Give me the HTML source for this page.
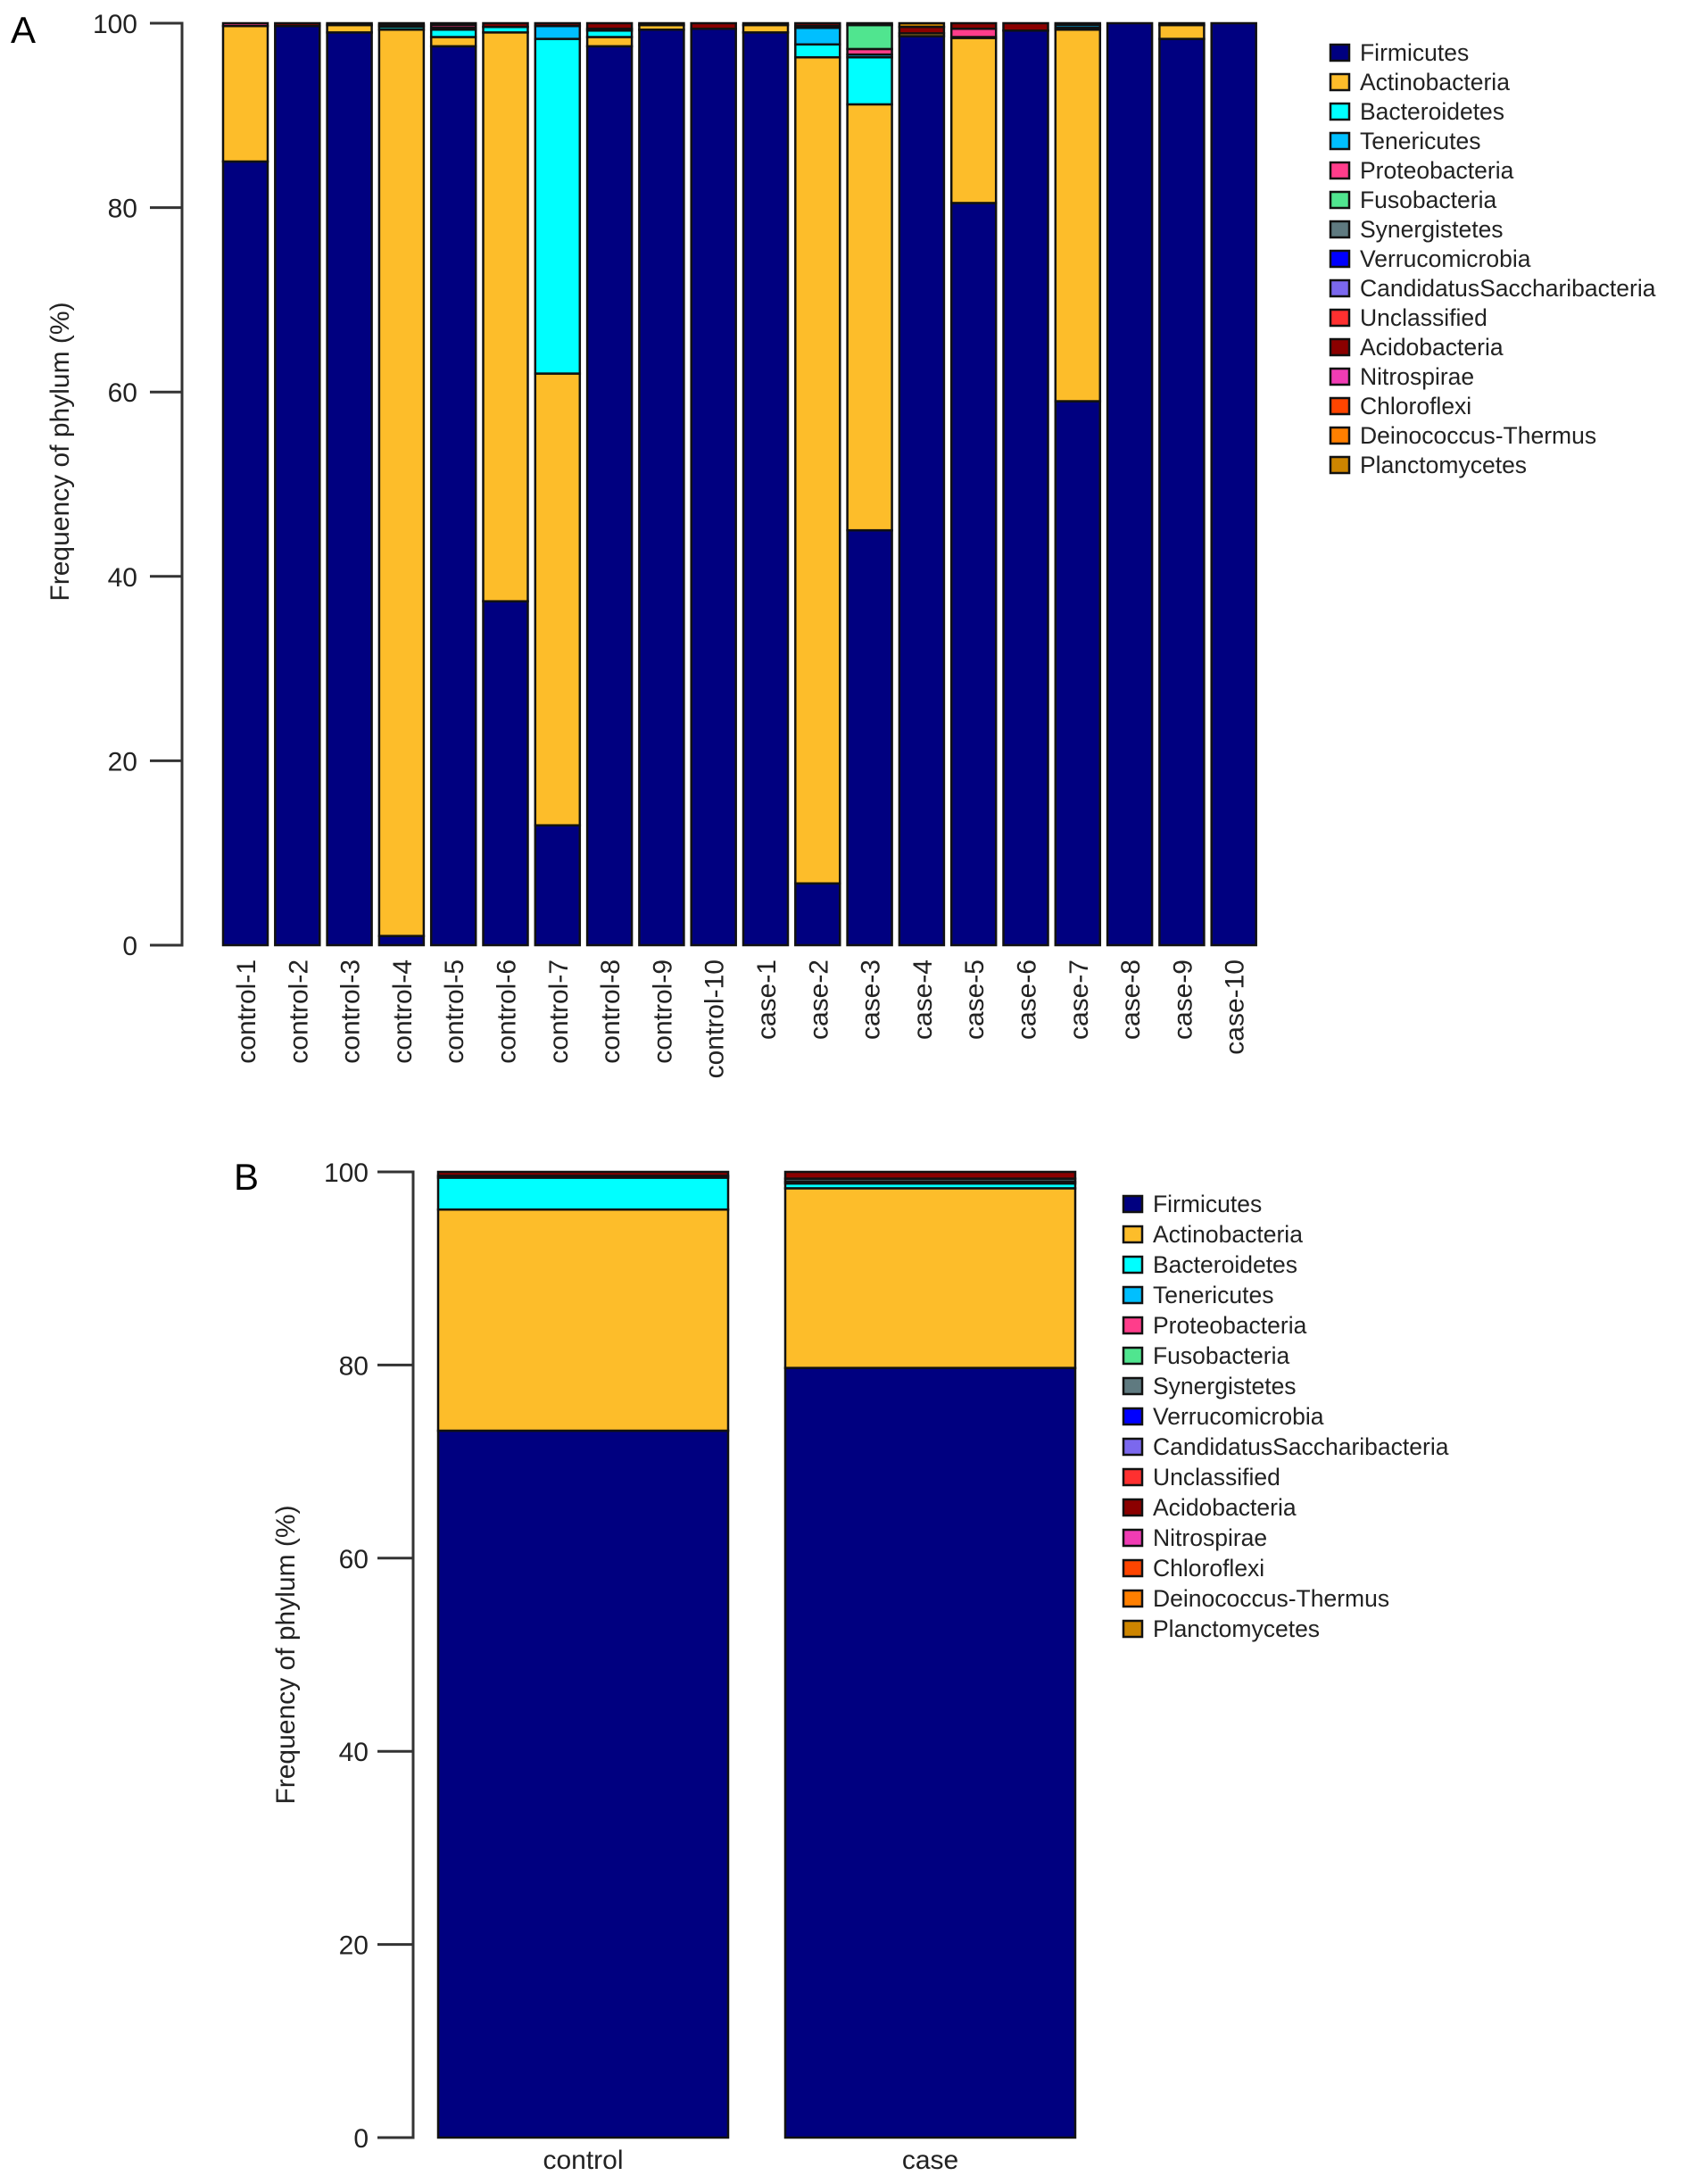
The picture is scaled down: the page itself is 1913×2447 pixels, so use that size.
<!DOCTYPE html>
<html><head><meta charset="utf-8"><style>
html,body{margin:0;padding:0;background:#fff;}
svg{display:block;font-family:"Liberation Sans",Arial,sans-serif;}
</style></head><body>
<svg id="chart" width="1913" height="2447" viewBox="0 0 1913 2447" xmlns="http://www.w3.org/2000/svg">
<text x="12" y="48" font-size="42">A</text>
<text x="262" y="1333" font-size="42">B</text>
<text transform="translate(77,506) rotate(-90)" text-anchor="middle" font-size="30" fill="#222">Frequency of phylum (%)</text>
<text transform="translate(330,1854) rotate(-90)" text-anchor="middle" font-size="30" fill="#222">Frequency of phylum (%)</text>
<g id="gA"></g>
<g id="gB"></g>
</svg>
<script>
const phyla = ["Firmicutes","Actinobacteria","Bacteroidetes","Tenericutes","Proteobacteria","Fusobacteria","Synergistetes","Verrucomicrobia","CandidatusSaccharibacteria","Unclassified","Acidobacteria","Nitrospirae","Chloroflexi","Deinococcus-Thermus","Planctomycetes"];
const colors = ["#000080","#fdbd2a","#00ffff","#00bfff","#ff3d8b","#50e58f","#5f7a80","#0000ff","#7b68ee","#ff3030","#8b0000","#f03cb4","#ff4500","#ff7f00","#cd8500"];
const samplesA = ["control-1","control-2","control-3","control-4","control-5","control-6","control-7","control-8","control-9","control-10","case-1","case-2","case-3","case-4","case-5","case-6","case-7","case-8","case-9","case-10"];
// values per sample in phyla order
const valuesA = [
[85,14.7,0,0,0.3,0,0,0,0,0,0,0,0,0,0],
[99.7,0,0,0,0,0,0,0,0,0,0.3,0,0,0,0],
[99,0.8,0,0,0,0,0,0,0,0,0.2,0,0,0,0],
[1,98.3,0.3,0.2,0,0,0,0,0,0,0.2,0,0,0,0],
[97.5,1,0.8,0.2,0.3,0,0,0,0,0,0.2,0,0,0,0],
[37.3,61.7,0.6,0,0,0,0,0,0,0,0.4,0,0,0,0],
[13,49,36.3,1.4,0,0,0,0,0,0,0.3,0,0,0,0],
[97.5,1,0.7,0.2,0,0,0,0,0,0,0.6,0,0,0,0],
[99.3,0.5,0,0,0,0,0,0,0,0,0.2,0,0,0,0],
[99.4,0,0,0,0,0,0,0,0,0,0.6,0,0,0,0],
[99,0.8,0,0,0,0,0,0,0,0,0.2,0,0,0,0],
[6.7,89.6,1.4,1.8,0.2,0,0,0,0,0,0.3,0,0,0,0],
[45,46.2,5.1,0.3,0.6,2.6,0,0,0,0,0.2,0,0,0,0],
[98.6,0.3,0,0,0,0,0,0,0,0,0.7,0,0,0,0.4],
[80.5,17.9,0.1,0,0.9,0,0,0,0,0,0.6,0,0,0,0],
[99.2,0,0,0,0,0,0,0,0,0,0.8,0,0,0,0],
[59,40.3,0.2,0.3,0,0,0,0,0,0,0.2,0,0,0,0],
[100,0,0,0,0,0,0,0,0,0,0,0,0,0,0],
[98.3,1.5,0,0,0,0,0,0,0,0,0.2,0,0,0,0],
[100,0,0,0,0,0,0,0,0,0,0,0,0,0,0]];
const groupsB = ["control","case"];
const valuesB = [
[73.2,22.9,3.3,0.2,0,0,0,0,0,0,0.4,0,0,0,0],
[79.7,18.6,0.5,0.2,0,0,0.3,0,0,0,0.7,0,0,0,0]];
const ticks = [0,20,40,60,80,100];
const tickLabels = ["0","20","40","60","80","100"];

const NS="http://www.w3.org/2000/svg";
function mk(tag,attrs,parent){const e=document.createElementNS(NS,tag);for(const k in attrs)e.setAttribute(k,attrs[k]);parent.appendChild(e);return e;}

function panel(g,cfg,cats,vals){
  const y=v=>cfg.y0-(cfg.y0-cfg.y100)*v/100;
  const ax=mk('path',{d:`M${cfg.tickL},${y(100)}H${cfg.axX}V${y(0)}H${cfg.tickL}`,fill:'none',stroke:'#333','stroke-width':3},g);
  
  
  ticks.forEach((t,i)=>{
    const tl=mk('line',{x1:cfg.tickL,x2:cfg.axX,y1:y(t),y2:y(t),stroke:'#333','stroke-width':3},g);
    
    
    const tx=mk('text',{x:cfg.labX,y:y(t)+11,'text-anchor':'end','font-size':30,fill:'#222'},g);
    tx.textContent=tickLabels[i];
    
    
  });
  cats.forEach((c,i)=>{
    const x=cfg.x0+i*cfg.step;
    let cum=0;
    vals[i].forEach((v,j)=>{
      if(v<=0)return;
      const r=mk('rect',{x:x,y:y(cum+v),width:cfg.w,height:y(cum)-y(cum+v),fill:colors[j],stroke:'#111','stroke-width':2.5},g);
      
      
      cum+=v;
    });
    let t;
    if(cfg.rot){
      t=mk('text',{transform:`translate(${x+cfg.w/2+11},${cfg.labY}) rotate(-90)`,'text-anchor':'end','font-size':30,fill:'#222'},g);
    } else {
      t=mk('text',{x:x+cfg.w/2,y:cfg.labY,'text-anchor':'middle','font-size':30,fill:'#222'},g);
    }
    t.textContent=c;
    
    
  });
  phyla.forEach((p,j)=>{
    const cy=cfg.legY+j*cfg.legStep;
    const s=mk('rect',{x:cfg.legX,y:cy-9,width:21,height:18,fill:colors[j],stroke:'#111','stroke-width':2.5},g);
    
    
    const t=mk('text',{x:cfg.legX+33,y:cy+9,'font-size':26.5,fill:'#222'},g);
    t.textContent=p;
    
    
  });
}
panel(document.getElementById('gA'),{y0:1059,y100:26,axX:204,tickL:168,labX:154,x0:250,step:58.3,w:50,rot:true,labY:1075,legX:1491,legY:59,legStep:33},samplesA,valuesA);
panel(document.getElementById('gB'),{y0:2395,y100:1313,axX:463,tickL:423,labX:413,x0:491,step:389,w:325,rot:false,labY:2430,legX:1259,legY:1349,legStep:34},groupsB,valuesB);
</script>
</body></html>
